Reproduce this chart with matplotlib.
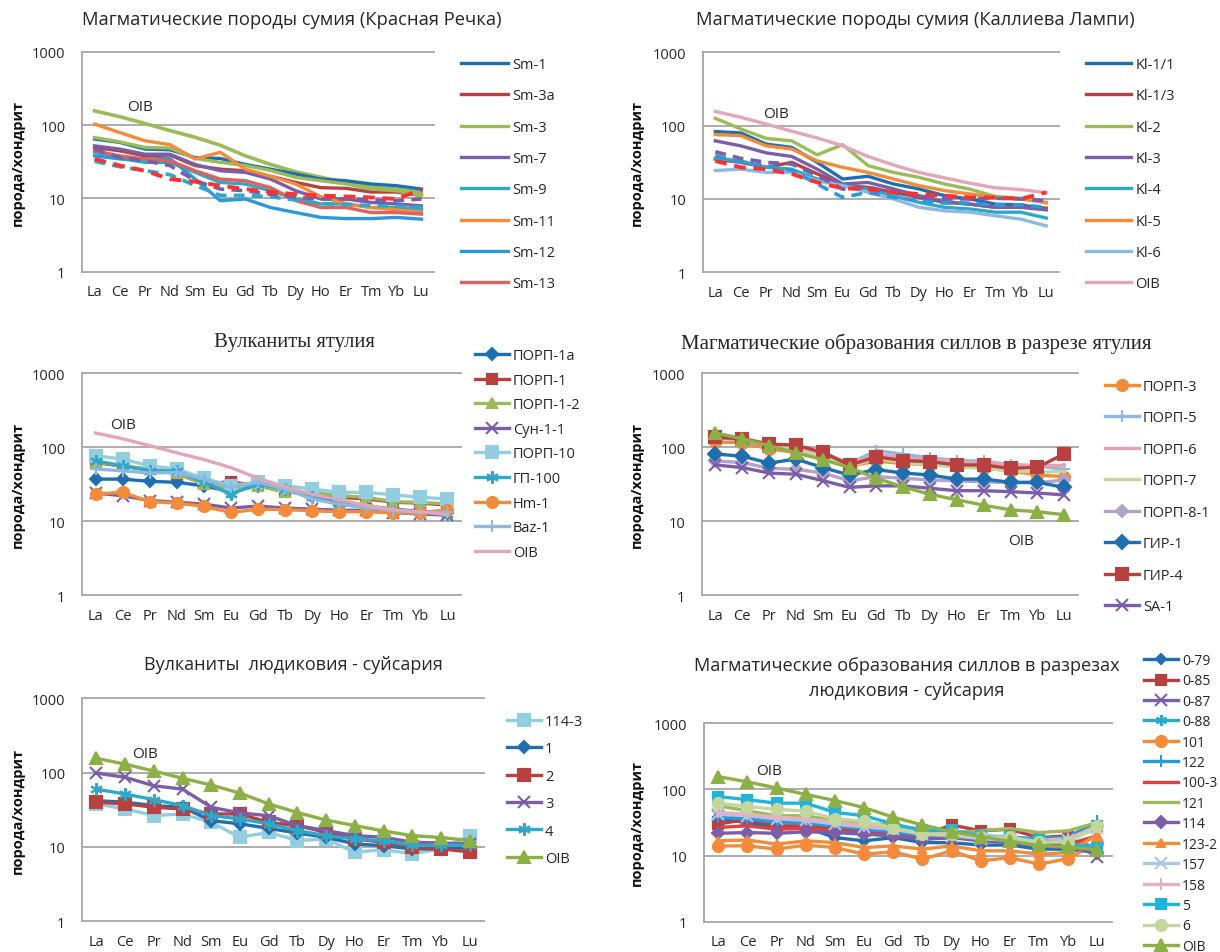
import numpy as np
import matplotlib
matplotlib.use('Agg')
import matplotlib.pyplot as plt
from matplotlib.ticker import NullLocator

plt.rcParams['font.family'] = ['Open Sans', 'DejaVu Sans']

W, H = 1220, 953
TXT = '#262626'
GRID = '#a6a6a6'

ree = ['La', 'Ce', 'Pr', 'Nd', 'Sm', 'Eu', 'Gd', 'Tb', 'Dy', 'Ho', 'Er', 'Tm', 'Yb', 'Lu']
oib = [156, 130, 105, 84, 68, 53, 38, 29, 23, 19.4, 16.4, 14.2, 13.4, 12.2]

# --- сумий, Красная Речка
sm1 = [64.5, 58, 47, 46, 36, 35, 29, 25, 21.5, 18.3, 17.4, 15.7, 14.9, 13.4]
sm3a = [49.5, 44.5, 38, 39, 28, 25, 23.8, 20, 16.5, 14, 13.7, 12.2, 12.2, 10.9]
sm3 = [67.5, 59, 49.5, 48.5, 35, 31, 28, 24, 19.3, 17.4, 15.7, 13.4, 12.7, 10.9]
sm7 = [52, 47, 40, 40, 29, 23.8, 22.6, 18.3, 12.7, 9.8, 9.8, 8.8, 8.4, 7.9]
sm9 = [42.5, 35, 31, 31, 22.6, 16.5, 15.7, 12.7, 9.8, 8.4, 8.4, 7.5, 7.5, 7.1]
sm11 = [103, 79, 61, 54, 34.5, 42.5, 25, 20, 15.7, 10.5, 8.5, 7.5, 7, 6.5]
sm12 = [38, 34.5, 34.5, 35, 18.3, 9.3, 9.8, 7.5, 6.4, 5.5, 5.3, 5.3, 5.5, 5.2]
sm13 = [44.5, 38, 34.5, 32.5, 23.8, 18.3, 17.4, 14, 9.3, 7.5, 7.5, 6.4, 6.4, 6.1]
sm_x1 = [34.5, 28, 23.8, 18.3, 16.9, 14.9, 13.4, 12.2, 11.4, 10.9, 10.6, 10.3, 9.8, 13.1]
sm_x2 = [47, 36, 32.5, 28, 17.4, 13.4, 12.7, 11.4, 10.3, 9.8, 9.8, 9.5, 9.3, 9.8]
sm_x3 = [32, 27, 24, 21, 15, 11, 11, 10.5, 9.5, 8.5, 8.2, 8, 7.8, 7.6]

# --- сумий, Каллиева Лампи
kl11 = [83, 79.5, 56, 50.5, 31.6, 18.7, 20.4, 16, 13.7, 11.1, 10, 8.5, 8.3, 7.3]
kl13 = [35, 31.6, 27, 31.6, 22, 15.2, 14.4, 12.3, 10.5, 9, 8.5, 7.7, 7.7, 7.5]
kl2 = [126, 90, 67, 62, 40, 55, 28.5, 23, 19.7, 16, 13.6, 10.8, 10.2, 8.8]
kl3 = [62, 53, 42.5, 38, 25.5, 16, 16.8, 13.7, 11.1, 9.2, 8.5, 7.7, 7.7, 7.1]
kl4 = [35.8, 33, 27, 25.5, 18.7, 15.2, 13.6, 11.1, 9, 7.7, 7.3, 6.6, 6.6, 5.5]
kl5 = [75.5, 73, 53, 48, 33, 27, 23, 18.7, 15.2, 13, 11.7, 10.5, 10, 9]
kl6 = [24.4, 25.5, 23, 23, 17.7, 15.2, 12.3, 10, 7.7, 6.9, 6.6, 5.9, 5.3, 4.3]
kl_x1 = [44, 35.8, 31.6, 30, 20.8, 13.6, 14.4, 12.3, 11.1, 10, 10, 10.2, 10, 9.5]
kl_x2 = [33, 27, 25.5, 22, 16.8, 14, 13.6, 12.3, 11.7, 11.1, 10.5, 10.5, 10, 12.3]
kl_x3 = [39, 31.6, 28.5, 24.4, 16, 10.5, 12.3, 10.5, 9.5, 8.8, 8.8, 8.3, 8.3, 7.7]

# --- вулканиты ятулия
porp1a = [37, 37, 34.5, 33.5, 30, 25, 30, 27, 22, 18, 16, 14.5, 13.5, 13]
porp1 = [62, 55, 50, 44, 32, 34, 30, 25, 23, 21, 20, 18, 17.5, 16.5]
porp12 = [62.8, 56, 50.6, 44.7, 31.8, 27.2, 30.2, 24.5, 24.5, 22.1, 21, 18.3, 17.9, 17.1]
sun11 = [24, 22, 19, 18, 17, 15, 16, 15, 14.5, 14, 14, 13, 12.5, 12]
porp10 = [76.8, 69, 56, 50.6, 38, 30.2, 33.5, 30.2, 27.2, 24.5, 24.5, 22.6, 21, 19.9]
gp100 = [65.5, 56, 48, 48, 33.5, 23.2, 31.8, 27.2, 21, 17, 15.3, 13.8, 13.1, 12.5]
hm1 = [23.3, 24.5, 18.3, 17.6, 15.8, 13.1, 14.5, 14.3, 13.8, 13.4, 13.4, 12.9, 12.9, 14.3]
baz1 = [50.6, 48, 44.7, 45.7, 37, 28.5, 33.5, 27.2, 19.9, 17, 15.3, 13.8, 13.1, 13.1]

# --- силлы в разрезе ятулия
porp3 = [118, 115, 95, 85, 70, 55, 65, 60, 58, 55, 52, 48, 42, 40]
porp5 = [135, 125, 105, 95, 85, 60, 90, 80, 72, 66, 65, 58, 56, 50]
porp6 = [140, 130, 105, 95, 80, 60, 80, 72, 68, 63, 62, 58, 56, 57]
porp7 = [150, 135, 110, 92, 75, 55, 70, 62, 58, 54, 52, 48, 46, 47]
porp81 = [65, 62, 52, 50, 45, 35, 40, 38, 36, 35, 34, 33, 33, 36]
gir1 = [81, 75.5, 61, 69, 53, 42, 49.7, 44.7, 42, 37, 37, 33.5, 33.5, 28.6]
gir4 = [136, 130, 110, 107, 85, 57.5, 74, 66, 63.7, 57.5, 57.5, 51.7, 53.4, 81]
sa1 = [57.5, 53, 44.7, 43, 35.3, 28.6, 30, 30, 27.8, 25.8, 25.8, 25, 24, 22.6]

# --- вулканиты людиковия - суйсария
v1143 = [38, 32.5, 26.5, 27.8, 21.4, 13.5, 15.7, 12.2, 12.8, 8.5, 9.2, 8.1, 9.4, 14.2]
v1 = [42, 40, 36, 34.2, 22.6, 20.5, 17.8, 15.4, 13.5, 11, 10.4, 9.4, 9.4, 9.8]
v2 = [40, 38, 34.2, 32.5, 27.8, 27.8, 21.4, 19.4, 15.7, 12.8, 11.6, 10, 9.4, 8.6]
v3 = [98.6, 86.6, 66.6, 60, 34.2, 28.7, 26.3, 19.4, 16.6, 14.2, 13.5, 11.6, 11.3, 11]
v4 = [60, 51.5, 43.3, 36, 26.5, 23.8, 20.5, 16.6, 14.2, 12.8, 12.2, 10.5, 10.5, 10.6]

# --- силлы в разрезах людиковия - суйсария
s079 = [35.6, 31.6, 26.6, 26.6, 18.7, 16.7, 18.7, 15.7, 15.7, 14.4, 14.4, 12.5, 12.5, 11.1]
s085 = [29.9, 35.6, 28.2, 28.2, 25, 23.7, 21, 19.9, 29, 23.7, 25, 18.7, 19.9, 28.2]
s087 = [40, 36, 33, 31, 28, 25, 23, 19, 19, 18, 18, 16, 17, 9.6]
s088 = [44, 40, 35, 33, 29, 26, 24, 20, 20, 19, 19, 17, 18, 13]
s101 = [14, 14, 12.5, 14.4, 13.2, 10.5, 11.4, 8.8, 11.8, 8.3, 9.3, 7.4, 9, 15.7]
s122 = [38, 36, 32, 31, 28, 25, 23, 20, 20, 19, 19, 18, 19, 33]
s1003 = [26.6, 28.2, 25, 25.7, 23.7, 21.7, 19.9, 17.7, 18.7, 17.7, 16.7, 15.7, 14.9, 19.9]
s121 = [56.5, 47.5, 40, 40, 33.6, 31.6, 28.2, 25, 22.3, 23.7, 25.7, 22.3, 23.7, 31.6]
s114 = [21.7, 22.3, 21.7, 22.9, 22.3, 21, 19.9, 17.7, 18.7, 16.7, 15.7, 14, 13.2, 11.1]
s1232 = [16.7, 17.2, 14.9, 16.7, 15.7, 13.2, 14, 12.5, 14, 11.8, 11.8, 10.5, 11.1, 21]
s157 = [42, 40, 36, 34, 30, 27, 25, 21, 20, 18, 17, 16, 17, 26]
s158 = [45, 42, 38, 36, 32, 28, 26, 22, 21, 19, 18, 17, 18, 28]
s5 = [78, 70, 62, 62, 45, 40, 30, 24, 24, 20, 19, 17, 15, 13]
s6 = [62, 55, 50, 47, 36, 33, 26, 21, 21, 19, 19, 16, 16, 28]

BLUE, RED, GREEN, PURPLE = '#1f6fb0', '#b8403e', '#9bbb59', '#7b5ea7'
AQUA, ORANGE, SKY, LBLUE = '#2ea8c8', '#f38b3a', '#2b98dc', '#93cde0'
PINK, LGREEN, LAV, OIBG = '#e3a6b8', '#c3d69b', '#b3a2c7', '#8db046'
AST = (6, 2, 0)

fig = plt.figure(figsize=(W / 100, H / 100), dpi=100)
renderer = fig.canvas.get_renderer()
x = np.arange(len(ree))


def make_axes(l, t, r, b):
    ax = fig.add_axes([l / W, 1 - b / H, (r - l) / W, (b - t) / H])
    ax.set_yscale('log')
    ax.set_ylim(1, 1000)
    ax.set_xlim(-0.5, len(ree) - 0.5)
    ax.set_yticks([1, 10, 100, 1000], ['1', '10', '100', '1000'])
    ax.yaxis.set_minor_locator(NullLocator())
    ax.set_xticks(x, ree)
    ax.tick_params(axis='y', length=0, labelsize=10.5, labelcolor=TXT, pad=12)
    ax.tick_params(axis='x', length=0, labelsize=10.5, labelcolor=TXT, pad=9)
    for s in ('top', 'right'):
        ax.spines[s].set_visible(False)
    for s in ('left', 'bottom'):
        ax.spines[s].set_color(GRID)
        ax.spines[s].set_linewidth(1.3)
    for g in (10, 100, 1000):
        ax.axhline(g, color=GRID, lw=1.3, zorder=0, clip_on=False)
    return ax


def draw(ax, vals, label, color, marker='none', ms=7, ls='-', lw=2.4, mew=1.5):
    ax.plot(x, vals, color=color, marker=marker, ms=ms, ls=ls, lw=lw,
            mew=mew, mec=color, mfc=color, label=label, clip_on=False)


def legend(ax, lx, ty, fs, spacing, hl):
    ax.legend(loc='upper left', bbox_to_anchor=(lx / W, 1 - ty / H),
              bbox_transform=fig.transFigure, frameon=False, fontsize=fs,
              labelspacing=spacing, handlelength=hl, handletextpad=0.3,
              borderpad=0, borderaxespad=0, numpoints=1, labelcolor=TXT)


def title(cx, cy, text, width, serif=False, **kw):
    # size the title so that its longest line spans the given pixel width
    fam = ['Liberation Serif', 'DejaVu Serif'] if serif else None
    t = fig.text(cx / W, 1 - cy / H, text, ha='center', va='center', fontsize=13,
                 color=TXT, family=fam, **kw)
    t.set_fontsize(13 * width / t.get_window_extent(renderer).width)


def ylabel(cx, cy):
    fig.text(cx / W, 1 - cy / H, 'порода/хондрит', rotation=90, ha='center',
             va='center', fontsize=10.5, fontweight='bold', color='#111')


# 1. Красная Речка
ax = make_axes(82, 52.7, 434, 272.7)
draw(ax, oib, '_oib', GREEN, lw=2.6)
draw(ax, sm1, 'Sm-1', BLUE)
draw(ax, sm3a, 'Sm-3a', RED)
draw(ax, sm3, 'Sm-3', GREEN)
draw(ax, sm7, 'Sm-7', PURPLE)
draw(ax, sm9, 'Sm-9', AQUA)
draw(ax, sm11, 'Sm-11', ORANGE)
draw(ax, sm12, 'Sm-12', SKY)
draw(ax, sm13, 'Sm-13', '#e0605c')
draw(ax, sm_x3, '_x3', AQUA, ls=(0, (3, 2)), lw=2.6)
draw(ax, sm_x2, '_x2', PURPLE, ls=(0, (3, 2)), lw=2.6)
draw(ax, sm_x1, '_x1', '#ff3030', ls=(0, (3, 2)), lw=2.8)
ax.text(1.8, 180, 'OIB', fontsize=11, color=TXT, ha='center', va='center')
legend(ax, 461, 58, 10.5, 1.12, 3.2)
title(292, 20, 'Магматические породы сумия (Красная Речка)', 417)
ylabel(18, 163)

# 2. Каллиева Лампи
ax = make_axes(702.6, 53.3, 1059, 273.3)
draw(ax, kl11, 'Kl-1/1', BLUE)
draw(ax, kl13, 'Kl-1/3', RED)
draw(ax, kl2, 'Kl-2', GREEN)
draw(ax, kl3, 'Kl-3', PURPLE)
draw(ax, kl4, 'Kl-4', AQUA)
draw(ax, kl5, 'Kl-5', ORANGE)
draw(ax, kl6, 'Kl-6', '#8db8e0')
draw(ax, oib, 'OIB', PINK)
draw(ax, kl_x3, '_x3', SKY, ls=(0, (3, 2)), lw=2.6)
draw(ax, kl_x1, '_x1', PURPLE, ls=(0, (3, 2)), lw=2.6)
draw(ax, kl_x2, '_x2', '#ff3030', ls=(0, (3, 2)), lw=2.8)
ax.text(2.4, 145, 'OIB', fontsize=11, color=TXT, ha='center', va='center')
legend(ax, 1086, 58, 10.5, 1.12, 3.1)
title(915, 20, 'Магматические породы сумия (Каллиева Лампи)', 435)
ylabel(637, 163)

# 3. Вулканиты ятулия
ax = make_axes(82, 374.3, 461, 596)
draw(ax, porp1a, 'ПОРП-1а', BLUE, 'D', 6)
draw(ax, porp1, 'ПОРП-1', RED, 's', 7)
draw(ax, porp12, 'ПОРП-1-2', GREEN, '^', 7)
draw(ax, sun11, 'Сун-1-1', PURPLE, 'x', 8)
draw(ax, porp10, 'ПОРП-10', LBLUE, 's', 8)
draw(ax, gp100, 'ГП-100', AQUA, AST, 9)
draw(ax, hm1, 'Hm-1', ORANGE, 'o', 8)
draw(ax, baz1, 'Baz-1', '#8db8e0', '+', 9)
draw(ax, oib, 'OIB', PINK)
ax.text(1.0, 205, 'OIB', fontsize=11, color=TXT, ha='center', va='center')
legend(ax, 475, 349, 10.5, 0.66, 2.3)
title(294.5, 343, 'Вулканиты ятулия', 161, serif=True)
ylabel(18, 485)

# 4. Силлы в разрезе ятулия
ax = make_axes(702, 374.3, 1077.6, 596)
draw(ax, porp3, 'ПОРП-3', ORANGE, 'o', 8)
draw(ax, porp5, 'ПОРП-5', '#8db8e0', '+', 9)
draw(ax, porp6, 'ПОРП-6', '#e8a0b0')
draw(ax, porp7, 'ПОРП-7', LGREEN)
draw(ax, porp81, 'ПОРП-8-1', LAV, 'D', 6)
draw(ax, gir1, 'ГИР-1', BLUE, 'D', 7)
draw(ax, gir4, 'ГИР-4', RED, 's', 9)
draw(ax, sa1, 'SA-1', PURPLE, 'x', 9)
draw(ax, oib, '_oib', OIBG, '^', 9)
ax.text(11.4, 5.4, 'OIB', fontsize=11, color=TXT, ha='center', va='center')
legend(ax, 1105, 380, 10.5, 1.13, 2.3)
title(915.8, 344, 'Магматические образования силлов в разрезе ятулия', 467, serif=True)
ylabel(637, 485)

# 5. Вулканиты людиковия - суйсария
ax = make_axes(82, 699.3, 484, 922.3)
draw(ax, v1143, '114-3', LBLUE, 's', 8)
draw(ax, v1, '1', BLUE, 'D', 6)
draw(ax, v2, '2', RED, 's', 8)
draw(ax, v3, '3', PURPLE, 'x', 9)
draw(ax, v4, '4', AQUA, AST, 9)
draw(ax, oib, 'OIB', OIBG, '^', 9)
ax.text(1.7, 182, 'OIB', fontsize=11, color=TXT, ha='center', va='center')
legend(ax, 507, 715, 10.5, 0.85, 2.3)
title(293.7, 665, 'Вулканиты  людиковия - суйсария', 299)
ylabel(18, 811)

# 6. Силлы в разрезах людиковия - суйсария
ax = make_axes(703.75, 724.3, 1112, 922.7)
draw(ax, s079, '0-79', BLUE, 'D', 5)
draw(ax, s085, '0-85', RED, 's', 7)
draw(ax, s087, '0-87', PURPLE, 'x', 8)
draw(ax, s088, '0-88', AQUA, AST, 8)
draw(ax, s101, '101', ORANGE, 'o', 8)
draw(ax, s122, '122', SKY, '+', 9)
draw(ax, s1003, '100-3', '#e04040')
draw(ax, s121, '121', GREEN)
draw(ax, s114, '114', PURPLE, 'D', 6)
draw(ax, s1232, '123-2', ORANGE, '^', 6)
draw(ax, s157, '157', '#a9c7e8', 'x', 8)
draw(ax, s158, '158', '#e6b0c0', '+', 8)
draw(ax, s5, '5', '#1fb4dc', 's', 7)
draw(ax, s6, '6', LGREEN, 'o', 8)
draw(ax, oib, 'OIB', OIBG, '^', 9)
ax.text(1.75, 196, 'OIB', fontsize=11, color=TXT, ha='center', va='center')
legend(ax, 1144, 654, 10, 0.39, 2.45)
title(907, 678.5, 'Магматические образования силлов в разрезах\nлюдиковия - суйсария',
      426, linespacing=1.45)
ylabel(637, 823)

fig.savefig('out.png', dpi=100, facecolor='white')
